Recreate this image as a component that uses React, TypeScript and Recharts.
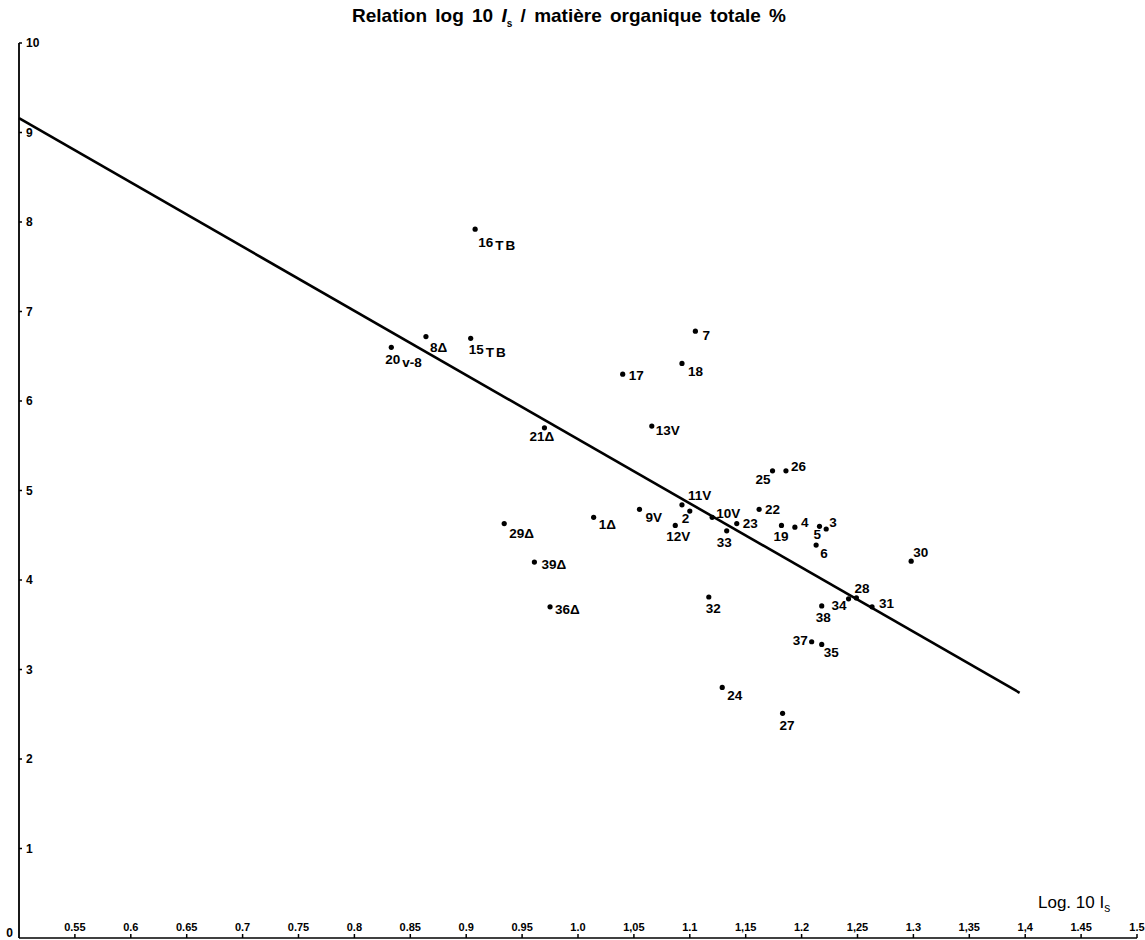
import { ReferenceLine, Scatter, ScatterChart, XAxis, YAxis } from "recharts";

// sample numbers as written next to each point
const pointLabels = [
  "16TB", "20v-8", "8Δ", "15TB", "21Δ", "29Δ", "39Δ", "36Δ", "1Δ", "9V",
  "12V", "2", "11V", "32", "7", "18", "17", "13V", "25", "26",
  "10V", "23", "22", "33", "19", "4", "5", "3", "6", "30",
  "28", "34", "31", "38", "37", "35", "24", "27"
];
// log 10 Is
const logIs = [
  0.908, 0.833, 0.864, 0.904, 0.97, 0.934, 0.961, 0.975, 1.014, 1.055,
  1.087, 1.1, 1.093, 1.117, 1.105, 1.093, 1.04, 1.066, 1.174, 1.186,
  1.12, 1.142, 1.162, 1.133, 1.182, 1.194, 1.216, 1.222, 1.213, 1.298,
  1.249, 1.242, 1.263, 1.218, 1.209, 1.218, 1.129, 1.183
];
// matière organique totale %
const organicMatter = [
  7.92, 6.6, 6.72, 6.7, 5.7, 4.63, 4.2, 3.7, 4.7, 4.79,
  4.61, 4.77, 4.84, 3.81, 6.78, 6.42, 6.3, 5.72, 5.22, 5.22,
  4.7, 4.63, 4.79, 4.55, 4.61, 4.59, 4.6, 4.57, 4.39, 4.21,
  3.8, 3.79, 3.7, 3.71, 3.31, 3.28, 2.8, 2.51
];

const xTicks = [
  0.55, 0.6, 0.65, 0.7, 0.75, 0.8, 0.85, 0.9, 0.95, 1.0,
  1.05, 1.1, 1.15, 1.2, 1.25, 1.3, 1.35, 1.4, 1.45, 1.5
];
const xTickLabels = [
  "0.55", "0.6", "0.65", "0.7", "0.75", "0.8", "0.85", "0.9", "0.95", "1.0",
  "1,05", "1.1", "1,15", "1.2", "1,25", "1.3", "1,35", "1,4", "1.45", "1.5"
];
const yTicks = [0, 1, 2, 3, 4, 5, 6, 7, 8, 9, 10];

// regression line end points
const fitLine = [
  { x: 0.5, y: 9.16 },
  { x: 1.395, y: 2.74 }
];

// where each label sits relative to its dot (dx, baseline dy)
const labelPlacement: Record<string, [number, number]> = {
  "16TB": [3, 18], "20v-8": [-6, 17], "8Δ": [4, 15], "15TB": [-2, 16],
  "21Δ": [-15, 13], "29Δ": [5, 14], "39Δ": [7, 7], "36Δ": [5, 7],
  "1Δ": [5, 12], "9V": [6, 13], "12V": [-9, 16], "2": [-8, 12],
  "11V": [6, -5], "32": [-3, 16], "7": [7, 9], "18": [6, 13],
  "17": [6, 6], "13V": [4, 9], "25": [-17, 13], "26": [5, 0],
  "10V": [4, 1], "23": [6, 4], "22": [6, 5], "33": [-10, 16],
  "19": [-8, 16], "4": [6, 0], "5": [-6, 13], "3": [3, -2],
  "6": [4, 13], "30": [2, -4], "28": [-2, -5], "34": [-17, 11],
  "31": [7, 1], "38": [-6, 16], "37": [-19, 3], "35": [2, 13],
  "24": [5, 13], "27": [-3, 17]
};

const points = pointLabels.map((name, i) => ({
  name,
  x: logIs[i],
  y: organicMatter[i]
}));

const labelFont = "'Liberation Sans Narrow', 'Liberation Sans', Arial, sans-serif";

function PointShape(props: any) {
  const { cx, cy, payload } = props;
  const name: string = payload.name;
  const [dx, dy] = labelPlacement[name] || [5, 5];
  const m = name.match(/^(\d+)(.*)$/);
  const num = m ? m[1] : name;
  const rest = m ? m[2] : "";
  const lowered = rest === "TB" || rest === "v-8";
  return (
    <g>
      <circle cx={cx} cy={cy} r={2.6} fill="#000" />
      <text
        x={cx + dx}
        y={cy + dy}
        fontSize={13.5}
        fontWeight="bold"
        fontFamily={labelFont}
        fill="#000"
      >
        {num}
        {rest && (
          <tspan dy={lowered ? 3 : 0} dx={lowered ? 2 : 0} letterSpacing={rest === "TB" ? 2 : 0}>
            {rest}
          </tspan>
        )}
      </text>
    </g>
  );
}

function XTick(props: any) {
  const { x, y, payload } = props;
  const idx = xTicks.indexOf(payload.value);
  return (
    <g>
      <line x1={x} x2={x} y1={y} y2={y - 4} stroke="#000" strokeWidth={1.5} />
      <text
        x={x}
        y={y - 7}
        textAnchor="middle"
        fontSize={11}
        fontWeight="bold"
        fontFamily={labelFont}
        fill="#000"
      >
        {idx >= 0 ? xTickLabels[idx] : payload.value}
      </text>
    </g>
  );
}

function YTick(props: any) {
  const { x, y, payload } = props;
  const isZero = payload.value === 0;
  return (
    <g>
      {!isZero && <line x1={x} x2={x + 3} y1={y} y2={y} stroke="#000" strokeWidth={1.5} />}
      <text
        x={isZero ? x - 6 : x + 7}
        y={isZero ? y - 1 : y + 4}
        textAnchor={isZero ? "end" : "start"}
        fontSize={12}
        fontWeight="bold"
        fontFamily={labelFont}
        fill="#000"
      >
        {payload.value}
      </text>
    </g>
  );
}

export default function App() {
  return (
    <div style={{ position: "relative", width: 1145, height: 940, background: "#fff" }}>
      <style>{"body{margin:0;}"}</style>
      <div
        style={{
          position: "absolute",
          top: 5,
          left: 0,
          width: 1138,
          textAlign: "center",
          fontFamily: "'Liberation Sans', Arial, sans-serif",
          fontWeight: "bold",
          fontSize: 19,
          wordSpacing: 3,
          color: "#000"
        }}
      >
        Relation log 10 <i>I</i>
        <sub style={{ fontSize: 10 }}>s</sub> / matière organique totale %
      </div>
      <div
        style={{
          position: "absolute",
          top: 893,
          left: 1038,
          fontFamily: labelFont,
          fontSize: 17,
          color: "#000"
        }}
      >
        Log. 10 I<sub style={{ fontSize: 12 }}>s</sub>
      </div>
      <ScatterChart
        width={1145}
        height={940}
        margin={{ top: 43, right: 8, bottom: 1, left: 19 }}
      >
        <XAxis
          type="number"
          dataKey="x"
          domain={[0.5, 1.5]}
          ticks={xTicks}
          interval={0}
          height={1}
          tickSize={0}
          tickMargin={0}
          tick={<XTick />}
          axisLine={{ stroke: "#000", strokeWidth: 1.5 }}
          allowDataOverflow
        />
        <YAxis
          type="number"
          dataKey="y"
          domain={[0, 10]}
          ticks={yTicks}
          interval={0}
          width={1}
          mirror
          tickSize={0}
          tickMargin={0}
          tick={<YTick />}
          axisLine={{ stroke: "#000", strokeWidth: 1.8 }}
          allowDataOverflow
        />
        <ReferenceLine
          segment={fitLine}
          stroke="#000"
          strokeWidth={2.6}
          ifOverflow="visible"
        />
        <Scatter data={points} shape={<PointShape />} isAnimationActive={false} />
      </ScatterChart>
    </div>
  );
}
